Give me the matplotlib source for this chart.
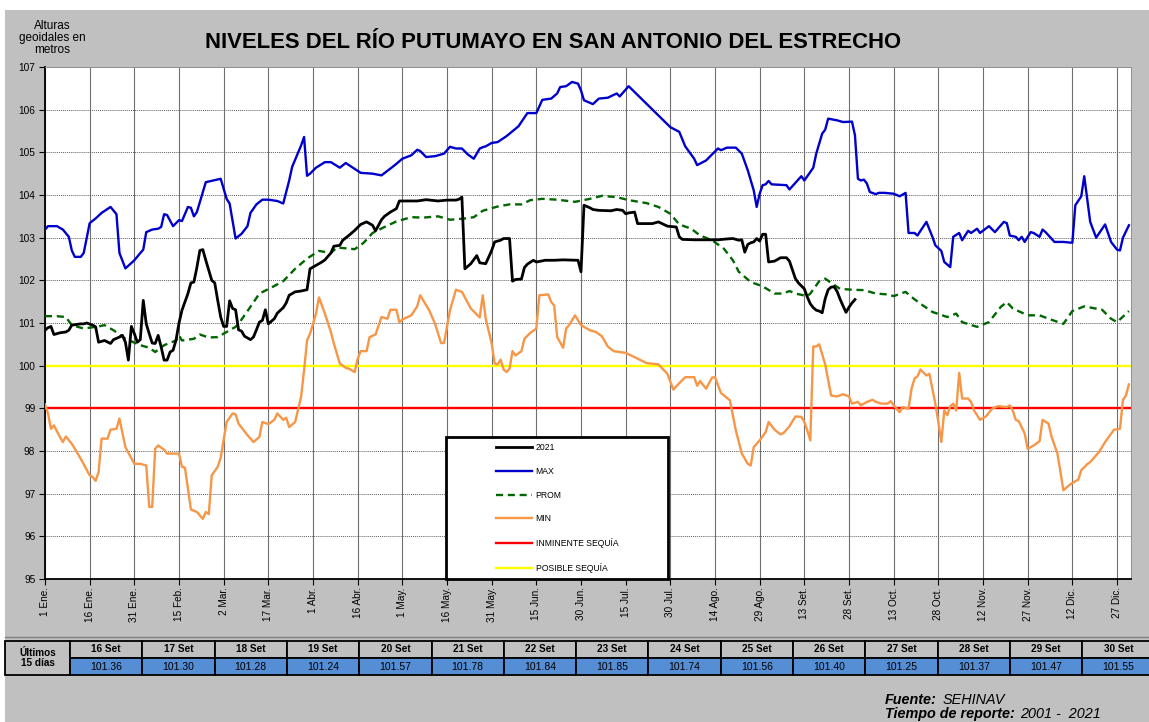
import matplotlib.pyplot as plt
from matplotlib.patches import Rectangle

plt.rcParams['font.family'] = ['Liberation Sans', 'DejaVu Sans']

# ---- data (day of year index, 0 = 1 Ene) ----
tick_labels = ['1 Ene.', '16 Ene.', '31 Ene.', '15 Feb.', '2 Mar.', '17 Mar.', '1 Abr.',
               '16 Abr.', '1 May.', '16 May.', '31 May.', '15 Jun.', '30 Jun.', '15 Jul.',
               '30 Jul.', '14 Ago.', '29 Ago.', '13 Set.', '28 Set.', '13 Oct.', '28 Oct.',
               '12 Nov.', '27 Nov.', '12 Dic.', '27 Dic.']

max_days = [0, 1, 4, 6, 8, 9, 10, 12, 13, 15, 17, 19, 22, 24, 25, 27, 30, 32, 33, 34, 36, 38, 39, 40,
            41, 43, 45, 46, 48, 49, 50, 51, 54, 59, 61, 62, 64, 66, 68, 69, 71, 73, 75, 78, 80, 82,
            83, 86, 87, 88, 89, 91, 94, 96, 99, 101, 106, 110, 113, 116, 118, 120, 123, 125, 126,
            128, 131, 134, 136, 138, 140, 142, 144, 146, 147, 148, 150, 152, 155, 159, 162, 165,
            167, 170, 172, 173, 175, 177, 179, 180, 181, 184, 186, 189, 192, 193, 195, 196, 210,
            213, 215, 218, 219, 222, 224, 226, 227, 229, 232, 234, 236, 238, 239, 240, 241, 242,
            243, 244, 249, 250, 254, 255, 258, 259, 261, 262, 263, 266, 268, 271, 272, 273, 274,
            275, 276, 277, 279, 280, 282, 285, 287, 289, 290, 292, 293, 294, 296, 298, 299, 301,
            302, 304, 305, 307, 308, 310, 311, 313, 314, 317, 319, 322, 323, 324, 326, 327, 328,
            329, 331, 332, 334, 335, 336, 339, 342, 345, 346, 348, 349, 351, 353, 356, 358, 360,
            361, 362, 364]
max_vals = [103.19, 103.27, 103.27, 103.19, 103.02, 102.70, 102.55, 102.55, 102.64, 103.34, 103.45,
            103.58, 103.72, 103.55, 102.64, 102.28, 102.47, 102.64, 102.72, 103.13, 103.19, 103.21,
            103.25, 103.55, 103.53, 103.27, 103.41, 103.39, 103.72, 103.70, 103.50, 103.60, 104.30,
            104.38, 103.91, 103.80, 102.98, 103.09, 103.27, 103.58, 103.78, 103.89, 103.89, 103.86,
            103.80, 104.34, 104.66, 105.16, 105.36, 104.45, 104.50, 104.64, 104.77, 104.77, 104.64,
            104.75, 104.52, 104.50, 104.46, 104.62, 104.73, 104.85, 104.93, 105.06, 105.03, 104.89,
            104.91, 104.97, 105.13, 105.09, 105.09, 104.95, 104.85, 105.09, 105.12, 105.14, 105.22,
            105.24, 105.38, 105.61, 105.92, 105.92, 106.23, 106.26, 106.38, 106.53, 106.55, 106.65,
            106.61, 106.45, 106.22, 106.13, 106.26, 106.28, 106.38, 106.31, 106.47, 106.55, 105.59,
            105.48, 105.14, 104.85, 104.70, 104.81, 104.95, 105.09, 105.05, 105.11, 105.11, 104.97,
            104.58, 104.11, 103.72, 104.03, 104.23, 104.25, 104.33, 104.25, 104.23, 104.13, 104.44,
            104.34, 104.64, 104.97, 105.44, 105.53, 105.79, 105.75, 105.71, 105.72, 105.40, 104.38,
            104.34, 104.36, 104.27, 104.07, 104.02, 104.05, 104.05, 104.03, 103.97, 104.05, 103.11,
            103.11, 103.05, 103.16, 103.37, 103.02, 102.82, 102.69, 102.43, 102.31, 103.02, 103.11,
            102.94, 103.16, 103.11, 103.21, 103.11, 103.27, 103.13, 103.37, 103.34, 103.05, 103.02,
            102.94, 103.02, 102.90, 103.13, 103.11, 103.02, 103.19, 103.13, 102.90, 102.90, 102.88,
            103.76, 103.97, 104.44, 103.37, 103.00, 103.31, 102.90, 102.72, 102.70, 103.00, 103.29]

prom_days = [0, 4, 7, 9, 13, 18, 20, 23, 27, 32, 35, 37, 40, 44, 45, 46, 50, 52, 55, 58, 61, 64, 65,
             69, 72, 76, 80, 84, 88, 92, 96, 98, 104, 107, 110, 114, 118, 123, 127, 132, 136, 141,
             144, 147, 152, 156, 160, 163, 167, 172, 178, 183, 187, 192, 196, 202, 206, 210, 213,
             217, 220, 224, 228, 231, 233, 237, 241, 245, 248, 250, 252, 256, 257, 260, 262, 264,
             267, 271, 275, 279, 283, 285, 289, 291, 294, 298, 303, 306, 308, 313, 317, 321, 323,
             325, 330, 334, 337, 342, 345, 349, 355, 358, 360, 364]
prom_vals = [101.16, 101.16, 101.14, 100.95, 100.87, 100.92, 100.95, 100.83, 100.63, 100.48, 100.42,
             100.32, 100.48, 100.59, 100.71, 100.59, 100.63, 100.73, 100.66, 100.67, 100.79, 100.91,
             100.98, 101.38, 101.69, 101.83, 101.98, 102.27, 102.51, 102.69, 102.64, 102.77, 102.73,
             102.88, 103.11, 103.25, 103.38, 103.48, 103.47, 103.50, 103.42, 103.45, 103.48, 103.63,
             103.73, 103.78, 103.78, 103.88, 103.91, 103.89, 103.84, 103.91, 103.98, 103.95, 103.88,
             103.81, 103.72, 103.56, 103.31, 103.21, 103.05, 102.94, 102.74, 102.47, 102.20, 101.96,
             101.86, 101.69, 101.69, 101.75, 101.69, 101.63, 101.69, 101.98, 102.04, 101.94, 101.80,
             101.78, 101.77, 101.69, 101.67, 101.63, 101.73, 101.61, 101.45, 101.26, 101.14, 101.22,
             101.02, 100.91, 101.02, 101.38, 101.49, 101.34, 101.18, 101.18, 101.10, 100.98, 101.28,
             101.39, 101.31, 101.10, 101.02, 101.28]

min_days = [0, 1, 2, 3, 5, 6, 7, 9, 12, 15, 16, 17, 18, 19, 21, 22, 24, 25, 27, 30, 32, 34, 35, 36,
            37, 38, 40, 41, 45, 46, 47, 49, 51, 53, 54, 55, 56, 58, 59, 61, 63, 64, 65, 68, 70, 72,
            73, 75, 77, 78, 80, 81, 82, 84, 86, 87, 88, 89, 90, 91, 92, 94, 96, 97, 99, 101, 102,
            104, 105, 106, 108, 109, 111, 113, 115, 116, 118, 119, 120, 123, 125, 126, 129, 131,
            133, 134, 136, 138, 140, 143, 146, 147, 148, 150, 151, 152, 153, 154, 155, 156, 157,
            158, 160, 161, 163, 165, 166, 169, 170, 171, 172, 174, 175, 176, 178, 180, 183, 185,
            187, 189, 191, 195, 198, 200, 202, 206, 209, 211, 213, 215, 218, 219, 220, 222, 224,
            225, 227, 230, 232, 234, 236, 237, 238, 240, 242, 243, 245, 247, 248, 250, 252, 254,
            255, 256, 257, 258, 259, 260, 262, 264, 266, 268, 270, 271, 273, 274, 276, 278, 279,
            281, 283, 284, 285, 287, 288, 290, 291, 292, 293, 294, 296, 297, 299, 300, 301, 302,
            303, 304, 305, 306, 307, 308, 310, 311, 312, 314, 316, 318, 320, 323, 324, 325, 326,
            327, 329, 330, 332, 334, 335, 337, 338, 340, 342, 344, 345, 347, 348, 350, 351, 354,
            356, 359, 361, 362, 363, 364]
min_vals = [99.09, 98.88, 98.52, 98.60, 98.33, 98.21, 98.34, 98.17, 97.82, 97.43, 97.39, 97.30,
            97.51, 98.29, 98.29, 98.50, 98.52, 98.76, 98.09, 97.70, 97.70, 97.66, 96.69, 96.69,
            98.05, 98.13, 98.03, 97.94, 97.94, 97.63, 97.61, 96.63, 96.57, 96.41, 96.57, 96.52,
            97.43, 97.63, 97.84, 98.68, 98.88, 98.86, 98.64, 98.37, 98.21, 98.33, 98.68, 98.63,
            98.73, 98.88, 98.73, 98.78, 98.56, 98.68, 99.27, 99.89, 100.59, 100.75, 100.98, 101.22,
            101.60, 101.22, 100.79, 100.52, 100.05, 99.95, 99.93, 99.85, 100.16, 100.34, 100.34,
            100.67, 100.73, 101.14, 101.10, 101.31, 101.31, 101.02, 101.08, 101.18, 101.39, 101.65,
            101.30, 100.98, 100.53, 100.53, 101.30, 101.78, 101.73, 101.34, 101.13, 101.65, 101.10,
            100.52, 100.05, 100.03, 100.14, 99.91, 99.85, 99.93, 100.34, 100.24, 100.34, 100.63,
            100.77, 100.87, 101.65, 101.67, 101.49, 101.41, 100.67, 100.42, 100.87, 100.95, 101.18,
            100.95, 100.83, 100.79, 100.69, 100.45, 100.34, 100.30, 100.20, 100.13, 100.06, 100.03,
            99.81, 99.44, 99.59, 99.73, 99.73, 99.53, 99.64, 99.46, 99.72, 99.73, 99.36, 99.19,
            98.48, 97.94, 97.70, 97.66, 98.09, 98.25, 98.44, 98.68, 98.50, 98.39, 98.42, 98.58,
            98.81, 98.80, 98.68, 98.48, 98.25, 100.45, 100.45, 100.50, 100.03, 99.30, 99.28, 99.33,
            99.28, 99.11, 99.15, 99.07, 99.15, 99.20, 99.15, 99.11, 99.11, 99.17, 99.07, 98.91,
            99.03, 98.99, 99.46, 99.70, 99.75, 99.91, 99.77, 99.81, 99.11, 98.68, 98.21, 98.95,
            98.84, 99.05, 99.11, 98.95, 99.83, 99.23, 99.23, 99.15, 98.95, 98.73, 98.81, 98.99,
            99.05, 99.03, 99.07, 98.95, 98.73, 98.70, 98.41, 98.05, 98.13, 98.23, 98.73, 98.64,
            98.34, 97.94, 97.08, 97.20, 97.25, 97.33, 97.55, 97.69, 97.74, 97.98, 98.21, 98.50,
            98.52, 99.20, 99.30, 99.56]

y2021_days = [0, 1, 2, 3, 5, 7, 8, 9, 11, 12, 13, 14, 16, 17, 18, 20, 22, 23, 25, 26, 27, 28, 29, 30,
              31, 32, 33, 34, 35, 36, 37, 38, 39, 40, 41, 42, 43, 44, 45, 46, 48, 49, 50, 51, 52, 53,
              54, 56, 57, 58, 59, 60, 61, 62, 63, 64, 65, 66, 67, 69, 70, 71, 72, 73, 74, 75, 77, 78,
              80, 81, 82, 84, 86, 88, 89, 91, 93, 94, 96, 97, 99, 100, 102, 104, 106, 108, 110, 111,
              113, 114, 116, 118, 119, 122, 125, 128, 132, 135, 138, 139, 140, 141, 143, 145, 146,
              148, 150, 151, 153, 154, 156, 157, 158, 160, 161, 162, 164, 165, 168, 171, 174, 179,
              180, 181, 183, 184, 186, 190, 192, 194, 195, 196, 198, 199, 202, 204, 206, 209, 212,
              213, 214, 218, 222, 226, 229, 231, 233, 234, 235, 236, 237, 238, 239, 240, 241, 242,
              243, 245, 247, 249, 250, 252, 253, 255, 256, 257]
y2021_vals = [100.83, 100.89, 100.92, 100.73, 100.77, 100.79, 100.83, 100.95, 100.97, 100.98, 100.98,
              101.00, 100.95, 100.91, 100.55, 100.59, 100.52, 100.61, 100.67, 100.71, 100.55, 100.13,
              100.92, 100.75, 100.55, 100.61, 101.53, 100.98, 100.75, 100.53, 100.52, 100.71, 100.44,
              100.13, 100.13, 100.32, 100.36, 100.60, 101.00, 101.30, 101.69, 101.94, 101.96, 102.30,
              102.70, 102.72, 102.47, 102.00, 101.94, 101.53, 101.14, 100.92, 100.92, 101.52, 101.34,
              101.31, 100.84, 100.81, 100.69, 100.61, 100.67, 100.84, 101.02, 101.06, 101.31, 100.98,
              101.10, 101.23, 101.36, 101.47, 101.65, 101.73, 101.75, 101.78, 102.27, 102.35, 102.43,
              102.48, 102.64, 102.80, 102.82, 102.94, 103.05, 103.17, 103.31, 103.37, 103.29, 103.16,
              103.42, 103.50, 103.60, 103.68, 103.86, 103.86, 103.86, 103.89, 103.86, 103.88, 103.88,
              103.90, 103.95, 102.27, 102.39, 102.58, 102.41, 102.39, 102.70, 102.90, 102.94, 102.98,
              102.98, 101.98, 102.02, 102.03, 102.30, 102.38, 102.47, 102.43, 102.47, 102.47, 102.48,
              102.47, 102.20, 103.76, 103.70, 103.66, 103.64, 103.63, 103.66, 103.64, 103.56, 103.58,
              103.60, 103.33, 103.33, 103.33, 103.37, 103.27, 103.25, 103.02, 102.96, 102.95, 102.95,
              102.95, 102.97, 102.98, 102.94, 102.95, 102.66, 102.84, 102.88, 102.90, 102.98, 102.92,
              103.08, 103.08, 102.43, 102.45, 102.53, 102.53, 102.45, 102.04, 101.94, 101.80, 101.61,
              101.45]

last15_labels = ['16 Set', '17 Set', '18 Set', '19 Set', '20 Set', '21 Set', '22 Set', '23 Set',
                 '24 Set', '25 Set', '26 Set', '27 Set', '28 Set', '29 Set', '30 Set']
last15_vals = [101.36, 101.30, 101.28, 101.24, 101.57, 101.78, 101.84, 101.85, 101.74, 101.56,
               101.40, 101.25, 101.37, 101.47, 101.55]
last15_days = list(range(258, 273))

nivel_inminente = 99.0
nivel_posible = 100.0

# ---- figure ----
W, H = 1149, 722
fig = plt.figure(figsize=(W / 100, H / 100), dpi=100)
fig.patch.set_facecolor('white')


def fx(px):
    return px / W


def fy(py):
    return 1 - py / H


fig.patches.append(Rectangle((fx(5), 0), 1 - fx(5), fy(10), transform=fig.transFigure,
                             facecolor='#C0C0C0', edgecolor='none', zorder=-10))
fig.lines.append(plt.Line2D([fx(5), 1], [fy(637), fy(637)], transform=fig.transFigure,
                            color='#808080', lw=1))

ax = fig.add_axes([fx(45), fy(579), fx(1131) - fx(45), (579 - 67) / H])
ax.set_facecolor('white')

ax.axhline(nivel_posible, color='#FFFF00', lw=1.7, label='POSIBLE SEQUÍA', zorder=2)
ax.axhline(nivel_inminente, color='#FF0000', lw=1.7, label='INMINENTE SEQUÍA', zorder=2)
ax.plot(min_days, min_vals, color='#F79646', lw=1.7, label='MIN', zorder=3)
ax.plot(prom_days, prom_vals, color='#006600', lw=1.7, ls=(0, (3, 2)), label='PROM', zorder=4)
ax.plot(max_days, max_vals, color='#0000CC', lw=1.7, label='MAX', zorder=4)
ax.plot(y2021_days + last15_days, y2021_vals + last15_vals, color='black', lw=2.0,
        label='2021', zorder=5)

ax.set_xlim(0, 364.7)
ax.set_ylim(95, 107)
ax.set_yticks(range(95, 108))
ax.set_xticks(range(0, 361, 15))
ax.set_xticklabels(tick_labels, rotation=90, fontsize=7.2)
ax.tick_params(axis='y', labelsize=7.3, length=4, width=0.8, pad=3)
ax.tick_params(axis='x', length=4, width=0.8, pad=2)

ax.grid(axis='x', color='#707070', lw=0.8, ls='-', zorder=1)
ax.grid(axis='y', color='#606060', lw=0.7, ls=(0, (1, 1)), zorder=1)
ax.set_axisbelow(True)
for s in ['left', 'bottom']:
    ax.spines[s].set_linewidth(1.3)
    ax.spines[s].set_color('black')
ax.spines['top'].set_color('#909090')
ax.spines['right'].set_color('#909090')
ax.spines['top'].set_linewidth(0.7)
ax.spines['right'].set_linewidth(0.7)

# legend: frame drawn separately, entries from the plotted lines
lx0, lx1, ly1 = (446 - 45) / 1086, (668 - 45) / 1086, (579 - 437) / 512
ax.add_patch(Rectangle((lx0, 0), lx1 - lx0, ly1, transform=ax.transAxes, facecolor='white',
                       edgecolor='black', lw=2, zorder=6, clip_on=False))
handles, labels = ax.get_legend_handles_labels()
order = ['2021', 'MAX', 'PROM', 'MIN', 'INMINENTE SEQUÍA', 'POSIBLE SEQUÍA']
hmap = dict(zip(labels, handles))
leg = ax.legend([hmap[k] for k in order], order, loc='upper left',
                bbox_to_anchor=((496 - 45) / 1086, (579 - 443) / 512), frameon=False,
                fontsize=6.2, handlelength=4.2, handletextpad=0.4, labelspacing=1.72,
                borderpad=0, borderaxespad=0)
leg.set_zorder(7)

# titles
fig.text(fx(553), fy(42), 'NIVELES DEL RÍO PUTUMAYO EN SAN ANTONIO DEL ESTRECHO',
         ha='center', va='center', fontsize=15.9, fontweight='bold')
fig.text(fx(52), fy(38), 'Alturas\ngeoidales en\nmetros', ha='center', va='center',
         fontsize=8.5, linespacing=1.0)

# table of last 15 days
t_top, t_mid, t_bot = 641, 658, 675
c0, cw = 70, 72.3
fig.patches.append(Rectangle((fx(5), fy(t_bot)), fx(c0) - fx(5), fy(t_top) - fy(t_bot),
                             transform=fig.transFigure, facecolor='#C0C0C0', edgecolor='black',
                             lw=1.3))
fig.text(fx(37.5), fy((t_top + t_bot) / 2), 'Últimos\n15 días', ha='center', va='center',
         fontsize=7.2, fontweight='bold', linespacing=1.1)
for k, (lab, val) in enumerate(zip(last15_labels, last15_vals)):
    xl = c0 + cw * k
    fig.patches.append(Rectangle((fx(xl), fy(t_mid)), fx(cw), fy(t_top) - fy(t_mid),
                                 transform=fig.transFigure, facecolor='#C0C0C0',
                                 edgecolor='black', lw=1.3))
    fig.patches.append(Rectangle((fx(xl), fy(t_bot)), fx(cw), fy(t_mid) - fy(t_bot),
                                 transform=fig.transFigure, facecolor='#558ED5',
                                 edgecolor='black', lw=1.3))
    fig.text(fx(xl + cw / 2), fy((t_top + t_mid) / 2), lab, ha='center', va='center',
             fontsize=7.2, fontweight='bold')
    fig.text(fx(xl + cw / 2), fy((t_mid + t_bot) / 2), f'{val:.2f}', ha='center', va='center',
             fontsize=7.5)

# footer
fig.text(fx(885), fy(704), 'Fuente:', fontsize=10.4, fontweight='bold', style='italic',
         va='baseline')
fig.text(fx(943), fy(704), 'SEHINAV', fontsize=10.4, style='italic', va='baseline')
fig.text(fx(885), fy(718), 'Tiempo de reporte:', fontsize=10.4, fontweight='bold',
         style='italic', va='baseline')
fig.text(fx(1020), fy(718), '2001 -  2021', fontsize=10.4, style='italic', va='baseline')

fig.savefig('out.png', dpi=100, facecolor=fig.get_facecolor())
